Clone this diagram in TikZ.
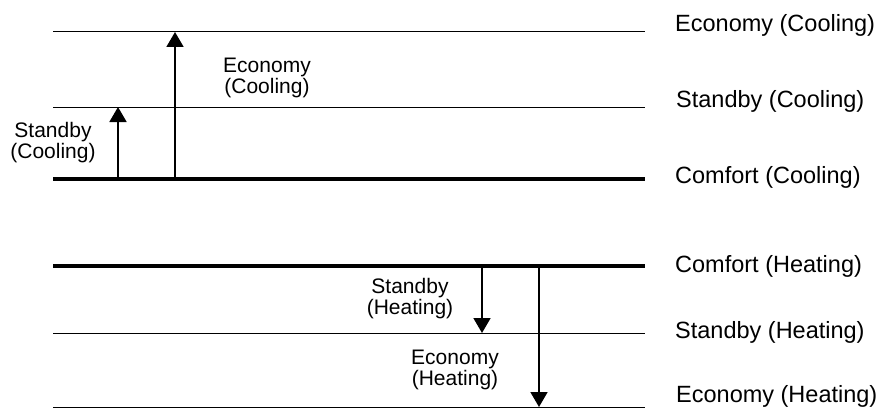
\documentclass[tikz,border=0pt]{standalone}
\usepackage{fontspec}
\setmainfont{Liberation Sans}
\usetikzlibrary{arrows.meta}
\begin{document}
\begin{tikzpicture}[x=1pt,y=-1pt,
  level/.style={line width=1pt},
  mainlevel/.style={line width=3.5pt},
  shiftarrow/.style={line width=1.8pt,-{Triangle[width=17pt,length=15pt]}},
  side/.style={anchor=base west,inner sep=0pt,font=\fontsize{23.5}{27}\selectfont},
  inlabel/.style={align=center,inner sep=0pt,font=\fontsize{21}{21}\selectfont}]
\useasboundingbox (0,0) rectangle (880,412);
% level lines
\coordinate (ecL) at (53,32);   \coordinate (ecR) at (645,32);
\coordinate (scL) at (53,107);  \coordinate (scR) at (645,107);
\coordinate (ccL) at (53,179);  \coordinate (ccR) at (645,179);
\coordinate (chL) at (53,266);  \coordinate (chR) at (645,266);
\coordinate (shL) at (53,333);  \coordinate (shR) at (645,333);
\coordinate (ehL) at (53,407);  \coordinate (ehR) at (645,407);
\draw[level] (ecL) -- (ecR);
\draw[level] (scL) -- (scR);
\draw[mainlevel] (ccL) -- (ccR);
\draw[mainlevel] (chL) -- (chR);
\draw[level] (shL) -- (shR);
\draw[level] (ehL) -- (ehR);
% arrows
\coordinate (a1s) at (118,179); \coordinate (a1e) at (118,107);
\coordinate (a2s) at (175,179); \coordinate (a2e) at (175,32);
\coordinate (a3s) at (482,266); \coordinate (a3e) at (482,333);
\coordinate (a4s) at (539,266); \coordinate (a4e) at (539,407);
\draw[shiftarrow] (a1s) -- (a1e);
\draw[shiftarrow] (a2s) -- (a2e);
\draw[shiftarrow] (a3s) -- (a3e);
\draw[shiftarrow] (a4s) -- (a4e);
% inner labels
\node[inlabel] (lsc) at (53,143) {Standby\\(Cooling)};
\node[inlabel] (lec) at (267,77.5) {Economy\\(Cooling)};
\node[inlabel] (lsh) at (410,299) {Standby\\(Heating)};
\node[inlabel] (leh) at (455,370) {Economy\\(Heating)};
% side labels
\node[side] (rec) at (675,32) {Economy (Cooling)};
\node[side] (rsc) at (676,107) {Standby (Cooling)};
\node[side] (rcc) at (675,183) {Comfort (Cooling)};
\node[side] (rch) at (675,272) {Comfort (Heating)};
\node[side] (rsh) at (675,338) {Standby (Heating)};
\node[side] (reh) at (676,402) {Economy (Heating)};
\end{tikzpicture}
\end{document}
